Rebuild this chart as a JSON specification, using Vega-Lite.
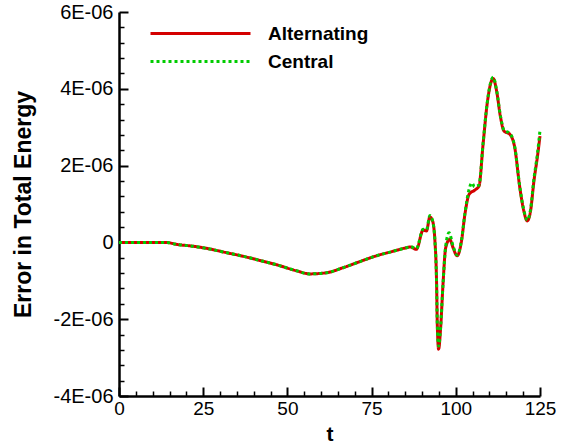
{
  "$schema": "https://vega.github.io/schema/vega-lite/v6.json",
  "width": 421,
  "height": 384,
  "autosize": "none",
  "padding": {"left": 119, "top": 12, "right": 26, "bottom": 50},
  "background": "white",
  "config": {
    "view": {"stroke": null},
    "font": "Liberation Sans",
    "legend": {
      "orient": "none",
      "legendX": 70,
      "legendY": 10,
      "title": null,
      "symbolType": "M-5,0H5",
      "symbolSize": 400,
      "symbolStrokeWidth": 3,
      "labelFontSize": 19,
      "labelFontWeight": "bold",
      "labelColor": "black",
      "labelOffset": 56,
      "rowPadding": 6,
      "padding": 0
    }
  },
  "datasets": {
    "err": [
      {"t": 0, "e": 0, "s": "Alternating"},
      {"t": 5, "e": 0, "s": "Alternating"},
      {"t": 10, "e": 0, "s": "Alternating"},
      {"t": 14, "e": 0, "s": "Alternating"},
      {"t": 17, "e": -0.05e-6, "s": "Alternating"},
      {"t": 22, "e": -0.10e-6, "s": "Alternating"},
      {"t": 26.9, "e": -0.17e-6, "s": "Alternating"},
      {"t": 31, "e": -0.25e-6, "s": "Alternating"},
      {"t": 36.8, "e": -0.36e-6, "s": "Alternating"},
      {"t": 41.8, "e": -0.47e-6, "s": "Alternating"},
      {"t": 46.7, "e": -0.58e-6, "s": "Alternating"},
      {"t": 52.7, "e": -0.74e-6, "s": "Alternating"},
      {"t": 56.6, "e": -0.82e-6, "s": "Alternating"},
      {"t": 61.6, "e": -0.79e-6, "s": "Alternating"},
      {"t": 66.5, "e": -0.66e-6, "s": "Alternating"},
      {"t": 71.5, "e": -0.50e-6, "s": "Alternating"},
      {"t": 76.4, "e": -0.35e-6, "s": "Alternating"},
      {"t": 81, "e": -0.24e-6, "s": "Alternating"},
      {"t": 85.3, "e": -0.14e-6, "s": "Alternating"},
      {"t": 86.5, "e": -0.12e-6, "s": "Alternating"},
      {"t": 88.3, "e": -0.18e-6, "s": "Alternating"},
      {"t": 90.3, "e": 0.32e-6, "s": "Alternating"},
      {"t": 91.3, "e": 0.30e-6, "s": "Alternating"},
      {"t": 92.3, "e": 0.66e-6, "s": "Alternating"},
      {"t": 93.1, "e": 0.56e-6, "s": "Alternating"},
      {"t": 93.8, "e": 0.04e-6, "s": "Alternating"},
      {"t": 94.3, "e": -1.09e-6, "s": "Alternating"},
      {"t": 94.5, "e": -2.12e-6, "s": "Alternating"},
      {"t": 94.9, "e": -2.78e-6, "s": "Alternating"},
      {"t": 95.5, "e": -2.22e-6, "s": "Alternating"},
      {"t": 96.2, "e": -1.09e-6, "s": "Alternating"},
      {"t": 97.0, "e": -0.14e-6, "s": "Alternating"},
      {"t": 98.2, "e": 0.08e-6, "s": "Alternating"},
      {"t": 99.2, "e": -0.14e-6, "s": "Alternating"},
      {"t": 100.4, "e": -0.35e-6, "s": "Alternating"},
      {"t": 101.7, "e": 0.04e-6, "s": "Alternating"},
      {"t": 102.7, "e": 0.73e-6, "s": "Alternating"},
      {"t": 104.0, "e": 1.26e-6, "s": "Alternating"},
      {"t": 105.6, "e": 1.36e-6, "s": "Alternating"},
      {"t": 106.9, "e": 1.47e-6, "s": "Alternating"},
      {"t": 108.1, "e": 2.56e-6, "s": "Alternating"},
      {"t": 109.3, "e": 3.60e-6, "s": "Alternating"},
      {"t": 110.3, "e": 4.12e-6, "s": "Alternating"},
      {"t": 111.1, "e": 4.27e-6, "s": "Alternating"},
      {"t": 112.1, "e": 3.95e-6, "s": "Alternating"},
      {"t": 113.3, "e": 3.25e-6, "s": "Alternating"},
      {"t": 114.3, "e": 2.90e-6, "s": "Alternating"},
      {"t": 116.0, "e": 2.82e-6, "s": "Alternating"},
      {"t": 117.5, "e": 2.47e-6, "s": "Alternating"},
      {"t": 119.0, "e": 1.43e-6, "s": "Alternating"},
      {"t": 120.2, "e": 0.82e-6, "s": "Alternating"},
      {"t": 121.2, "e": 0.56e-6, "s": "Alternating"},
      {"t": 122.2, "e": 0.82e-6, "s": "Alternating"},
      {"t": 123.2, "e": 1.60e-6, "s": "Alternating"},
      {"t": 124.2, "e": 2.21e-6, "s": "Alternating"},
      {"t": 125.0, "e": 2.77e-6, "s": "Alternating"},
      {"t": 0, "e": 0, "s": "Central"},
      {"t": 5, "e": 0, "s": "Central"},
      {"t": 10, "e": 0, "s": "Central"},
      {"t": 14, "e": 0, "s": "Central"},
      {"t": 17, "e": -0.05e-6, "s": "Central"},
      {"t": 22, "e": -0.10e-6, "s": "Central"},
      {"t": 26.9, "e": -0.17e-6, "s": "Central"},
      {"t": 31, "e": -0.25e-6, "s": "Central"},
      {"t": 36.8, "e": -0.36e-6, "s": "Central"},
      {"t": 41.8, "e": -0.47e-6, "s": "Central"},
      {"t": 46.7, "e": -0.58e-6, "s": "Central"},
      {"t": 52.7, "e": -0.74e-6, "s": "Central"},
      {"t": 56.6, "e": -0.82e-6, "s": "Central"},
      {"t": 61.6, "e": -0.79e-6, "s": "Central"},
      {"t": 66.5, "e": -0.66e-6, "s": "Central"},
      {"t": 71.5, "e": -0.50e-6, "s": "Central"},
      {"t": 76.4, "e": -0.35e-6, "s": "Central"},
      {"t": 81, "e": -0.24e-6, "s": "Central"},
      {"t": 85.3, "e": -0.14e-6, "s": "Central"},
      {"t": 86.5, "e": -0.11e-6, "s": "Central"},
      {"t": 88.3, "e": -0.16e-6, "s": "Central"},
      {"t": 90.3, "e": 0.34e-6, "s": "Central"},
      {"t": 91.3, "e": 0.33e-6, "s": "Central"},
      {"t": 92.3, "e": 0.70e-6, "s": "Central"},
      {"t": 93.1, "e": 0.56e-6, "s": "Central"},
      {"t": 93.8, "e": 0.04e-6, "s": "Central"},
      {"t": 94.3, "e": -1.09e-6, "s": "Central"},
      {"t": 94.5, "e": -2.12e-6, "s": "Central"},
      {"t": 94.9, "e": -2.70e-6, "s": "Central"},
      {"t": 95.5, "e": -2.20e-6, "s": "Central"},
      {"t": 96.2, "e": -1.09e-6, "s": "Central"},
      {"t": 97.0, "e": -0.10e-6, "s": "Central"},
      {"t": 98.0, "e": 0.25e-6, "s": "Central"},
      {"t": 99.2, "e": -0.10e-6, "s": "Central"},
      {"t": 100.4, "e": -0.33e-6, "s": "Central"},
      {"t": 101.7, "e": 0.06e-6, "s": "Central"},
      {"t": 102.7, "e": 0.75e-6, "s": "Central"},
      {"t": 104.0, "e": 1.40e-6, "s": "Central"},
      {"t": 104.7, "e": 1.55e-6, "s": "Central"},
      {"t": 105.6, "e": 1.45e-6, "s": "Central"},
      {"t": 106.9, "e": 1.50e-6, "s": "Central"},
      {"t": 108.1, "e": 2.58e-6, "s": "Central"},
      {"t": 109.3, "e": 3.62e-6, "s": "Central"},
      {"t": 110.3, "e": 4.15e-6, "s": "Central"},
      {"t": 111.1, "e": 4.30e-6, "s": "Central"},
      {"t": 112.1, "e": 3.97e-6, "s": "Central"},
      {"t": 113.3, "e": 3.27e-6, "s": "Central"},
      {"t": 114.3, "e": 2.92e-6, "s": "Central"},
      {"t": 116.0, "e": 2.84e-6, "s": "Central"},
      {"t": 117.5, "e": 2.49e-6, "s": "Central"},
      {"t": 119.0, "e": 1.45e-6, "s": "Central"},
      {"t": 120.2, "e": 0.84e-6, "s": "Central"},
      {"t": 121.2, "e": 0.58e-6, "s": "Central"},
      {"t": 122.2, "e": 0.86e-6, "s": "Central"},
      {"t": 123.2, "e": 1.66e-6, "s": "Central"},
      {"t": 124.2, "e": 2.28e-6, "s": "Central"},
      {"t": 125.0, "e": 2.92e-6, "s": "Central"}
    ]
  },
  "data": {"name": "err"},
  "resolve": {"axis": {"x": "independent", "y": "independent"}},
  "layer": [
    {
      "mark": {"type": "line", "opacity": 0},
      "encoding": {
        "x": {
          "field": "t", "type": "quantitative",
          "axis": {
            "orient": "bottom", "offset": -9,
            "values": [0, 25, 50, 75, 100, 125],
            "grid": false, "labels": false, "domain": false,
            "tickSize": 9, "tickWidth": 2, "tickColor": "black",
            "title": null
          }
        },
        "y": {
          "field": "e", "type": "quantitative",
          "axis": {
            "orient": "left", "offset": -9,
            "values": [-4e-6, -2e-6, 0, 2e-6, 4e-6, 6e-6],
            "grid": false, "labels": false, "domain": false,
            "tickSize": 9, "tickWidth": 2, "tickColor": "black",
            "title": null
          }
        },
        "detail": {"field": "s", "type": "nominal"}
      }
    },
    {
      "mark": {"type": "line", "opacity": 0},
      "encoding": {
        "x": {
          "field": "t", "type": "quantitative",
          "axis": {
            "orient": "bottom", "offset": -5,
            "values": [5, 10, 15, 20, 30, 35, 40, 45, 55, 60, 65, 70, 80, 85, 90, 95, 105, 110, 115, 120],
            "grid": false, "labels": false, "domain": false,
            "tickSize": 5, "tickWidth": 1.5, "tickColor": "black",
            "title": null
          }
        },
        "y": {
          "field": "e", "type": "quantitative",
          "axis": {
            "orient": "left", "offset": -5,
            "values": [-3.6e-6, -3.2e-6, -2.8e-6, -2.4e-6, -1.6e-6, -1.2e-6, -0.8e-6, -0.4e-6, 0.4e-6, 0.8e-6, 1.2e-6, 1.6e-6, 2.4e-6, 2.8e-6, 3.2e-6, 3.6e-6, 4.4e-6, 4.8e-6, 5.2e-6, 5.6e-6],
            "grid": false, "labels": false, "domain": false,
            "tickSize": 5, "tickWidth": 1.5, "tickColor": "black",
            "title": null
          }
        },
        "detail": {"field": "s", "type": "nominal"}
      }
    },
    {
      "mark": {"type": "line", "interpolate": "monotone", "strokeWidth": 3},
      "encoding": {
        "x": {
          "field": "t", "type": "quantitative",
          "scale": {"domain": [0, 125], "nice": false, "zero": false},
          "axis": {
            "orient": "bottom",
            "values": [0, 25, 50, 75, 100, 125],
            "grid": false, "ticks": false,
            "domainWidth": 2.5, "domainColor": "black",
            "labelFontSize": 19, "labelColor": "black", "labelPadding": 3,
            "labelFlush": false,
            "title": "t", "titleFontSize": 21, "titleFontWeight": "bold", "titleColor": "black",
            "titlePadding": 5
          }
        },
        "y": {
          "field": "e", "type": "quantitative",
          "scale": {"domain": [-4e-6, 6e-6], "nice": false, "zero": false},
          "axis": {
            "orient": "left",
            "values": [-4e-6, -2e-6, 0, 2e-6, 4e-6, 6e-6],
            "labelExpr": "datum.value == 0 ? '0' : (datum.value < 0 ? '-' : '') + round(abs(datum.value) * 1e6) + 'E-06'",
            "grid": false, "ticks": false,
            "domainWidth": 2.5, "domainColor": "black",
            "labelFontSize": 20, "labelColor": "black", "labelPadding": 6,
            "labelFlush": false,
            "title": "Error in Total Energy", "titleFontSize": 23, "titleFontWeight": "bold", "titleColor": "black",
            "titlePadding": 17
          }
        },
        "color": {
          "field": "s", "type": "nominal",
          "scale": {"domain": ["Alternating", "Central"], "range": ["#d40000", "#00cc00"]},
          "legend": {"title": null}
        },
        "strokeDash": {
          "field": "s", "type": "nominal",
          "scale": {"domain": ["Alternating", "Central"], "range": [[1, 0], [3, 3]]},
          "legend": {"title": null}
        }
      }
    }
  ]
}
